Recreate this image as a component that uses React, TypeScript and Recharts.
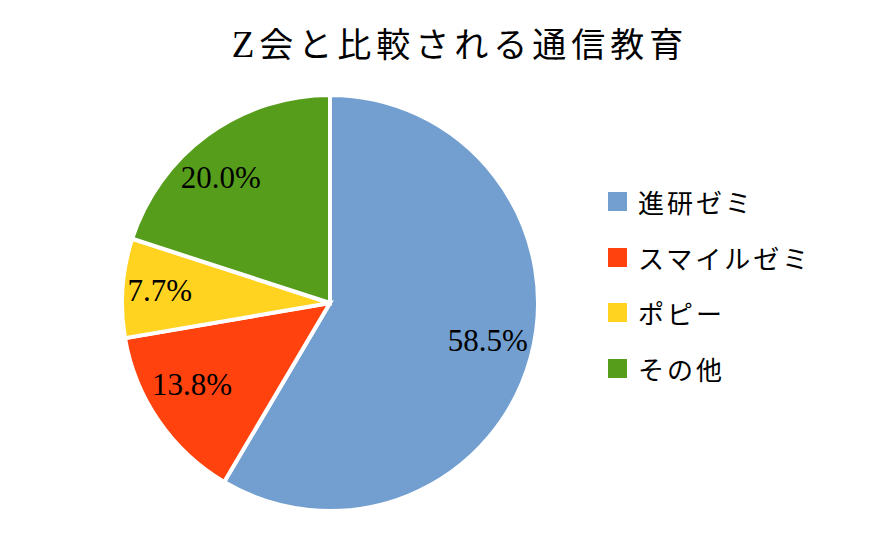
import { PieChart, Pie, Cell } from 'recharts';

const names = ['進研ゼミ', 'スマイルゼミ', 'ポピー', 'その他'];
const shares = [58.5, 13.8, 7.7, 20.0];
const colors = ['#729fcf', '#ff420e', '#ffd320', '#579d1c'];

// label placement: fraction of radius, angle nudge (deg)
const labelRadius = [0.78, 0.77, 0.82, 0.8];
const labelNudge = [2, -4, 0, 5];

const chartData = names.map((name, i) => ({ name, value: shares[i] }));

const RAD = Math.PI / 180;

const renderLabel = (props: any) => {
  const { cx, cy, midAngle, outerRadius, index } = props;
  const a = (midAngle + labelNudge[index]) * RAD;
  const r = outerRadius * labelRadius[index];
  const x = cx + r * Math.cos(-a);
  const y = cy + r * Math.sin(-a);
  return (
    <text
      x={x}
      y={y}
      textAnchor="middle"
      dominantBaseline="central"
      fill="#000"
      fontSize={31}
      fontFamily="'Liberation Serif', serif"
    >
      {shares[index].toFixed(1)}%
    </text>
  );
};

export default function App() {
  return (
    <div style={{ position: 'absolute', left: 0, top: 0, width: 891, height: 537, background: '#fff' }}>
      <div
        style={{
          position: 'absolute',
          left: 0,
          top: 21,
          width: 920,
          textAlign: 'center',
          fontSize: 34,
          letterSpacing: 5,
          lineHeight: '48px',
          fontFamily: "'Liberation Serif', 'Noto Sans CJK JP', serif",
          color: '#000',
        }}
      >
        <span style={{ fontSize: 37 }}>Z</span>会と比較される通信教育
      </div>
      <PieChart width={891} height={537} margin={{ top: 0, right: 0, bottom: 0, left: 0 }}>
        <Pie
          data={chartData}
          dataKey="value"
          nameKey="name"
          cx={330}
          cy={303}
          outerRadius={208}
          startAngle={90}
          endAngle={-270}
          stroke="#fff"
          strokeWidth={4}
          label={renderLabel}
          labelLine={false}
          isAnimationActive={false}
        >
          {chartData.map((d, i) => (
            <Cell key={d.name} fill={colors[i]} />
          ))}
        </Pie>
      </PieChart>
      <div
        style={{
          position: 'absolute',
          left: 608,
          top: 174,
          fontFamily: "'Noto Sans CJK JP', sans-serif",
        }}
      >
        {names.map((n, i) => (
          <div key={n} style={{ display: 'flex', alignItems: 'center', height: 55.5 }}>
            <span style={{ width: 19, height: 19, background: colors[i], marginRight: 11 }} />
            <span style={{ fontSize: 26, letterSpacing: 3, color: '#000' }}>{n}</span>
          </div>
        ))}
      </div>
    </div>
  );
}
